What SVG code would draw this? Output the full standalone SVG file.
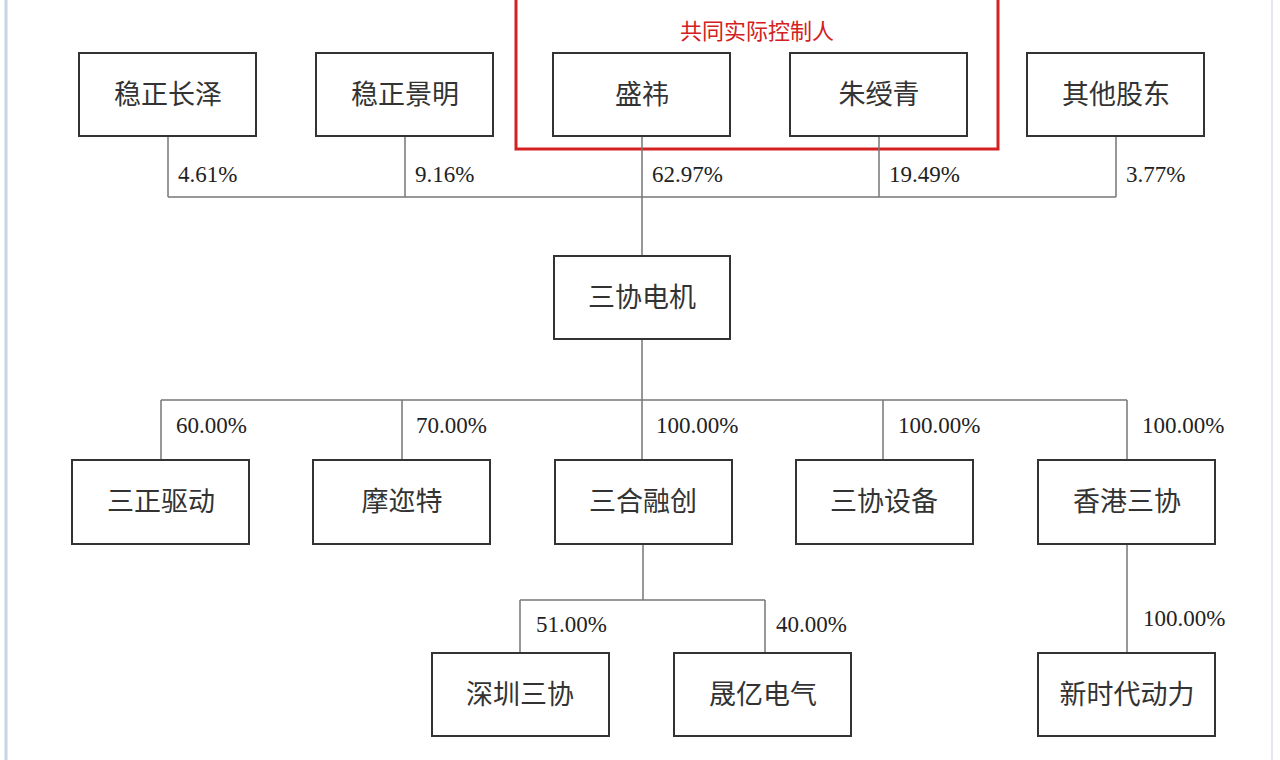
<svg xmlns="http://www.w3.org/2000/svg" width="1280" height="760" viewBox="0 0 1280 760">
<style>
.b{fill:#fff;stroke:#333;stroke-width:2}
.n{font-family:"Liberation Serif","Noto Sans CJK SC",serif;font-size:27px;fill:#333;text-anchor:middle}
.p{font-family:"Liberation Serif",serif;font-size:23px;fill:#222}
.l{stroke:#777;stroke-width:1.5;fill:none}
</style>
<rect width="1280" height="760" fill="#fff"/>
<line x1="6" y1="0" x2="6" y2="760" stroke="#c8d4e4" stroke-width="3"/>
<line x1="1272" y1="0" x2="1272" y2="760" stroke="#e4e8ee" stroke-width="2"/>
<g id="controllers">
<rect x="516" y="-4" width="482" height="153" fill="none" stroke="#d42020" stroke-width="3"/>
<text x="757" y="39" font-family="Noto Sans CJK SC,sans-serif" font-size="22" fill="#d42020" text-anchor="middle">共同实际控制人</text>
</g>
<g id="connectors">
<path class="l" d="M168 136V197M405 136V197M642 136V256M879 136V197M1116 136V197M168 197H1116"/>
<path class="l" d="M642 339V460M161 400H1127M161 400V460M402 400V460M883 400V460M1127 400V460"/>
<path class="l" d="M643 544V600M520 600H765M520 600V653M765 600V653M1127 544V653"/>
</g>
<g class="p">
<text x="178" y="182">4.61%</text><text x="415" y="182">9.16%</text><text x="652" y="182">62.97%</text><text x="889" y="182">19.49%</text><text x="1126" y="182">3.77%</text>
<text x="176" y="433">60.00%</text><text x="416" y="433">70.00%</text><text x="656" y="433">100.00%</text><text x="898" y="433">100.00%</text><text x="1142" y="433">100.00%</text>
<text x="536" y="632">51.00%</text><text x="776" y="632">40.00%</text><text x="1143" y="626">100.00%</text>
</g>
<g id="n1"><rect class="b" x="79" y="53" width="177" height="83"/><text class="n" x="168" y="104">稳正长泽</text></g>
<g id="n2"><rect class="b" x="316" y="53" width="177" height="83"/><text class="n" x="405" y="104">稳正景明</text></g>
<g id="n3"><rect class="b" x="553" y="53" width="177" height="83"/><text class="n" x="642" y="104">盛祎</text></g>
<g id="n4"><rect class="b" x="790" y="53" width="177" height="83"/><text class="n" x="879" y="104">朱绶青</text></g>
<g id="n5"><rect class="b" x="1027" y="53" width="177" height="83"/><text class="n" x="1116" y="104">其他股东</text></g>
<g id="n6"><rect class="b" x="554" y="256" width="176" height="83"/><text class="n" x="642" y="307">三协电机</text></g>
<g id="n7"><rect class="b" x="72" y="460" width="177" height="84"/><text class="n" x="161" y="511">三正驱动</text></g>
<g id="n8"><rect class="b" x="313" y="460" width="177" height="84"/><text class="n" x="402" y="511">摩迩特</text></g>
<g id="n9"><rect class="b" x="555" y="460" width="177" height="84"/><text class="n" x="643" y="511">三合融创</text></g>
<g id="n10"><rect class="b" x="796" y="460" width="177" height="84"/><text class="n" x="884" y="511">三协设备</text></g>
<g id="n11"><rect class="b" x="1038" y="460" width="177" height="84"/><text class="n" x="1127" y="511">香港三协</text></g>
<g id="n12"><rect class="b" x="432" y="653" width="177" height="83"/><text class="n" x="520" y="704">深圳三协</text></g>
<g id="n13"><rect class="b" x="674" y="653" width="177" height="83"/><text class="n" x="763" y="704">晟亿电气</text></g>
<g id="n14"><rect class="b" x="1038" y="653" width="177" height="83"/><text class="n" x="1127" y="704">新时代动力</text></g>
</svg>
